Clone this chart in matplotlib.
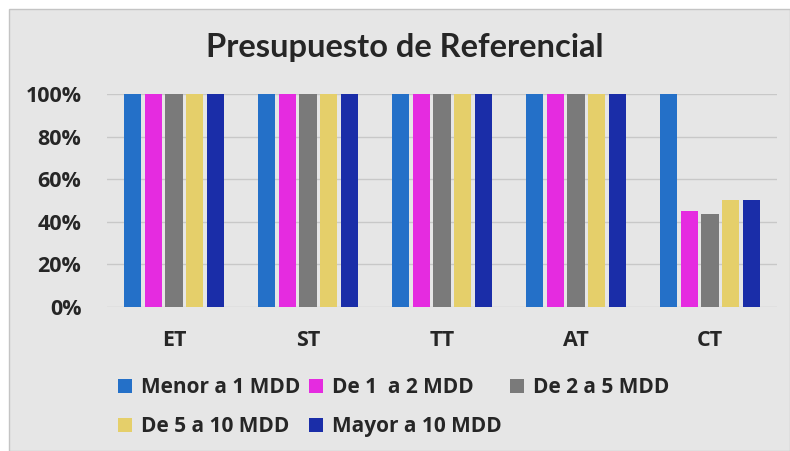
import matplotlib
matplotlib.use("Agg")
import matplotlib.pyplot as plt
import numpy as np
from matplotlib.patches import Rectangle
from matplotlib.ticker import PercentFormatter

categories = ["ET", "ST", "TT", "AT", "CT"]
series_names = ["Menor a 1 MDD", "De 1  a 2 MDD", "De 2 a 5 MDD", "De 5 a 10 MDD", "Mayor a 10 MDD"]
menor_1 = [1.00, 1.00, 1.00, 1.00, 1.00]
de_1_2 = [1.00, 1.00, 1.00, 1.00, 0.45]
de_2_5 = [1.00, 1.00, 1.00, 1.00, 0.435]
de_5_10 = [1.00, 1.00, 1.00, 1.00, 0.50]
mayor_10 = [1.00, 1.00, 1.00, 1.00, 0.50]
series_values = [menor_1, de_1_2, de_2_5, de_5_10, mayor_10]
colors = ["#2470C8", "#E52BE0", "#7A7A7A", "#E5CF6A", "#1A2DA8"]

bg = "#E6E6E6"
txt = "#262626"

fig = plt.figure(figsize=(7.9, 4.51), dpi=100)
fig.patch.set_facecolor("white")
fig.patches.append(Rectangle((9/790, 0), 1 - 9/790, 1 - 9/451, transform=fig.transFigure,
                             facecolor=bg, edgecolor="#C4C4C4", linewidth=1.0, zorder=-5))

ax = fig.add_axes([107/790, 1 - 306.7/451, 670/790, (306.7 - 94)/451])
ax.set_facecolor(bg)
ax.set_zorder(1)

x = np.arange(len(categories))
pitch = 0.154
width = 0.127
for i, (name, vals, c) in enumerate(zip(series_names, series_values, colors)):
    ax.bar(x + (i - 2) * pitch, vals, width=width, color=c, label=name, zorder=3)

ax.set_xlim(-0.5, len(categories) - 0.5)
ax.set_ylim(0, 1.0)
ax.set_yticks(np.arange(0, 1.01, 0.2))
ax.yaxis.set_major_formatter(PercentFormatter(1.0, decimals=0))
ax.grid(axis="y", color="#C8C8C8", linewidth=1.0, zorder=0)
ax.set_axisbelow(True)
for s in ax.spines.values():
    s.set_visible(False)
ax.tick_params(axis="both", length=0, colors=txt)
ax.tick_params(axis="y", pad=18.5)
ax.tick_params(axis="x", pad=17)
ax.set_xticks(x)
ax.set_xticklabels(categories)
for lab in ax.get_xticklabels() + ax.get_yticklabels():
    lab.set_fontfamily("Open Sans")
    lab.set_fontweight("bold")
    lab.set_fontsize(15.5)
    lab.set_color(txt)

fig.text(405/790, 1 - 47/451, "Presupuesto de Referencial", ha="center", va="center",
         fontsize=23.5, fontweight="bold", family="Lato", color=txt)

handles, labels = ax.get_legend_handles_labels()
order = [0, 3, 1, 4, 2]
leg = fig.legend([handles[i] for i in order], [labels[i] for i in order], ncol=3, loc="upper left",
                 bbox_to_anchor=(110/790, 1 - 369/451), frameon=False,
                 prop={"family": "Open Sans", "weight": "bold", "size": 15},
                 handlelength=0.65, handleheight=0.65, handletextpad=0.45,
                 columnspacing=0.4, labelspacing=0.85, borderaxespad=0)
for t in leg.get_texts():
    t.set_color(txt)

fig.savefig("out.png", dpi=100, facecolor=fig.get_facecolor())
